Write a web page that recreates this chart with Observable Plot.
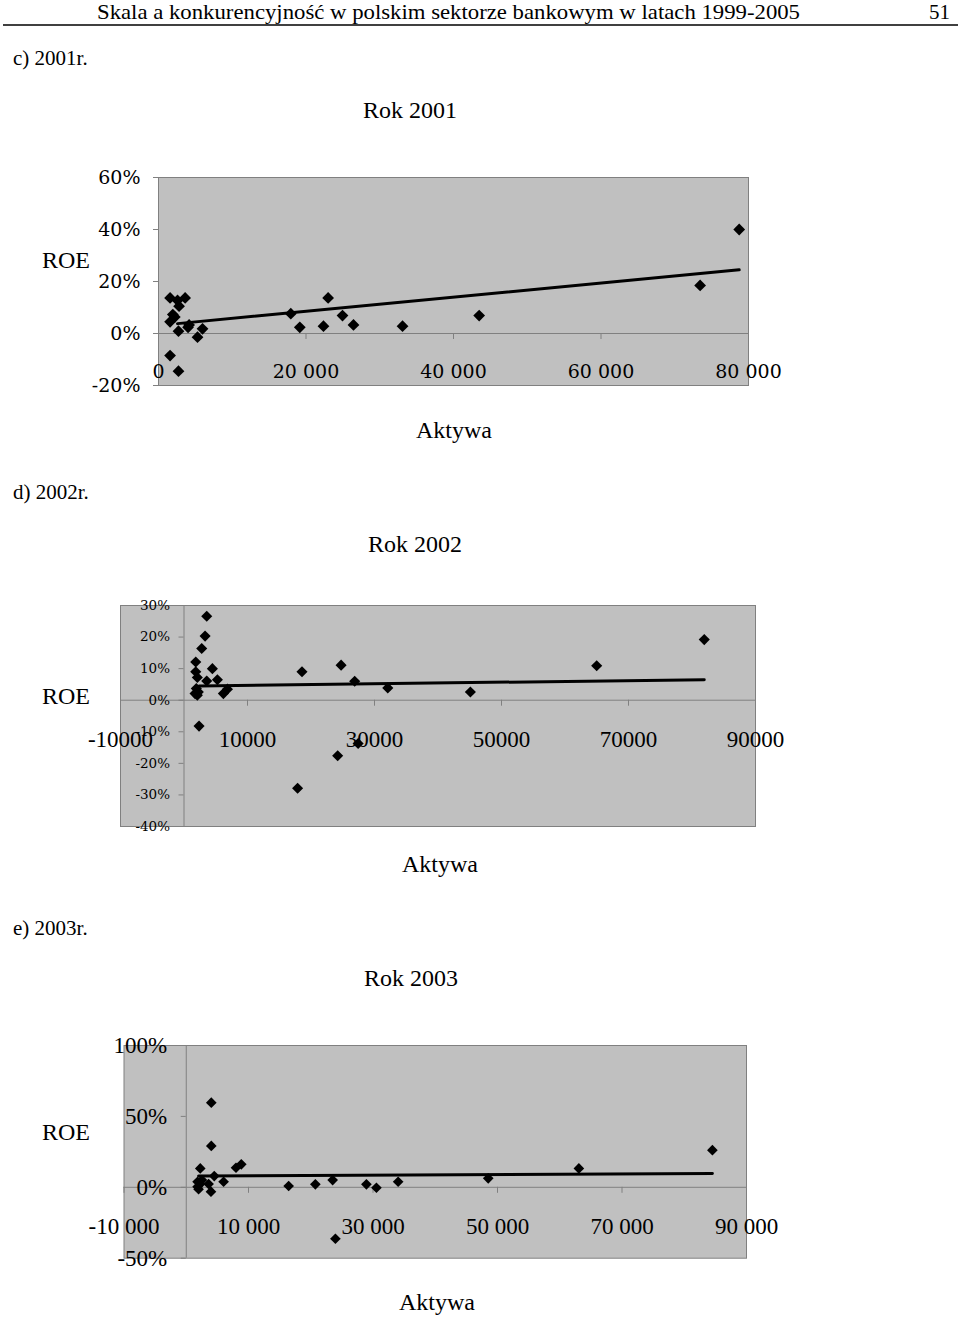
<!DOCTYPE html>
<html>
<head>
<meta charset="utf-8">
<script src="https://cdn.jsdelivr.net/npm/d3@7"></script>
<script src="https://cdn.jsdelivr.net/npm/@observablehq/plot@0.6"></script>
<style>
  body { margin: 0; background: #fff; }
  #page { position: relative; width: 960px; height: 1319px; overflow: hidden; background: #fff; }
  #page svg { position: absolute; left: 0; }
</style>
</head>
<body>
<div id="page"></div>
<script>
// ---------- DATA ----------
// 2001
const assets2001 = [1570, 2580, 3610, 2790, 1940, 1570, 2210, 2710, 4150, 4010, 5290, 5970, 1570, 2710,
  17940, 19160, 22370, 23000, 24950, 26440, 33090, 43480, 73440, 78740];
const roe2001 = [13.7, 12.7, 13.7, 10.5, 7.3, 4.5, 6.3, 0.9, 3.3, 2.4, -1.4, 1.8, -8.5, -14.5,
  7.6, 2.4, 2.8, 13.7, 6.9, 3.3, 2.8, 6.9, 18.5, 40];
const trendX2001 = [2580, 78740];
const trendY2001 = [3.8, 24.5];
const xTicks2001 = [0, 20000, 40000, 60000, 80000];
const yTicks2001 = [-20, 0, 20, 40, 60];

// 2002
const assets2002 = [3580, 3320, 2790, 1850, 1850, 2100, 3580, 4470, 5260, 1940, 2260, 1740, 2100, 6200, 6840, 2370,
  18580, 17890, 24740, 24200, 26880, 27420, 32090, 45100, 64990, 81930];
const roe2002 = [26.6, 20.3, 16.4, 12.1, 9.0, 7.2, 6.1, 10.0, 6.5, 3.7, 2.6, 2.1, 1.6, 2.1, 3.5, -8.2,
  9.0, -27.9, 11.1, -17.6, 6.0, -13.7, 3.9, 2.6, 10.9, 19.2];
const trendX2002 = [2370, 81930];
const trendY2002 = [4.5, 6.5];
const xTicks2002 = [-10000, 10000, 30000, 50000, 70000, 90000];
const yTicks2002 = [-40, -30, -20, -10, 0, 10, 20, 30];

// 2003
const assets2003 = [4020, 4020, 2250, 4500, 6000, 1820, 2250, 1820, 2520, 3590, 1980, 3970, 7990, 8840,
  16450, 20740, 23520, 23960, 28940, 30550, 34040, 48510, 63070, 84520];
const roe2003 = [59.7, 29.2, 13.3, 7.9, 3.9, 3.9, 2.3, 0.4, 5.1, 2.3, -1.4, -3.1, 13.8, 16.2,
  0.9, 2.1, 5.1, -36.3, 2.1, -0.3, 3.9, 6.3, 13.3, 26.2];
const trendX2003 = [1980, 84520];
const trendY2003 = [7.9, 9.8];
const xTicks2003 = [-10000, 10000, 30000, 50000, 70000, 90000];
const yTicks2003 = [-50, 0, 50, 100];

// ---------- HELPERS ----------
const fmtSpaced = v => (v < 0 ? "-" : "") + String(Math.abs(v)).replace(/\B(?=(\d{3})+(?!\d))/g, " ");
const fmtPlain = v => String(v);
const fmtPct = v => String(v) + "%";
const TIMES = "'Liberation Serif', 'Times New Roman', serif";
const PALA = "'DejaVu Serif', serif";
const GRID = "#808080";

const page = document.getElementById("page");

// static page texts
const NS = "http://www.w3.org/2000/svg";
const over = document.createElementNS(NS, "svg");
over.setAttribute("width", 960);
over.setAttribute("height", 1319);
over.style.top = "0px";
function txt(s, x, y, size, anchor = "start", extra = {}) {
  const t = document.createElementNS(NS, "text");
  t.setAttribute("x", x);
  t.setAttribute("y", y);
  t.setAttribute("font-family", TIMES);
  t.setAttribute("font-size", size);
  t.setAttribute("text-anchor", anchor);
  t.setAttribute("dominant-baseline", "central");
  t.setAttribute("fill", "#000");
  for (const k in extra) t.setAttribute(k, extra[k]);
  t.textContent = s;
  over.appendChild(t);
}
txt("Skala a konkurencyjność w polskim sektorze bankowym w latach 1999-2005", 97, 12, 21, "start",
  {textLength: 703, lengthAdjust: "spacingAndGlyphs"});
txt("51", 950, 12, 21, "end");
const hr = document.createElementNS(NS, "line");
hr.setAttribute("x1", 3); hr.setAttribute("x2", 958);
hr.setAttribute("y1", 25); hr.setAttribute("y2", 25);
hr.setAttribute("stroke", "#000"); hr.setAttribute("stroke-width", 1.5);
over.appendChild(hr);

txt("c) 2001r.", 13, 58, 21);
txt("Rok 2001", 410, 110, 24, "middle");
txt("ROE", 42, 260, 24);
txt("Aktywa", 454, 430, 24, "middle");

txt("d) 2002r.", 13, 492, 21);
txt("Rok 2002", 415, 544, 24, "middle");
txt("ROE", 42, 696, 24);
txt("Aktywa", 440, 864, 24, "middle");

txt("e) 2003r.", 13, 928, 21);
txt("Rok 2003", 411, 978, 24, "middle");
txt("ROE", 42, 1132, 24);
txt("Aktywa", 437, 1302, 24, "middle");
page.appendChild(over);

function scatter(cfg) {
  const pts = cfg.assets.map((a, i) => ({a, r: cfg.roe[i]}));
  const trend = cfg.trendX.map((a, i) => ({a, r: cfg.trendY[i]}));
  const svg = Plot.plot({
    width: 960,
    height: cfg.height,
    marginLeft: cfg.ml, marginRight: cfg.mr, marginTop: cfg.mt, marginBottom: cfg.mb,
    x: {domain: cfg.xDomain, axis: null},
    y: {domain: cfg.yDomain, axis: null},
    style: {background: "transparent", overflow: "visible"},
    marks: [
      Plot.frame({fill: "#c0c0c0", stroke: GRID}),
      Plot.ruleY([0], {stroke: GRID}),
      Plot.ruleX([0], {stroke: GRID}),
      Plot.ruleX(cfg.xTicks, {x: d => d, y1: 0, y2: 0, insetBottom: -6, stroke: GRID}),
      Plot.ruleY(cfg.yTicks, {y: d => d, x1: 0, x2: 0, insetLeft: -5, stroke: GRID}),
      Plot.dot(pts, {x: "a", y: "r", symbol: "diamond2", r: cfg.r, fill: "#000", stroke: null}),
      Plot.line(trend, {x: "a", y: "r", stroke: "#000", strokeWidth: 3}),
      Plot.text(cfg.xTicks, {x: d => d, y: 0, dy: cfg.xDy, text: cfg.xFmt, fill: "#000",
        fontFamily: cfg.xFont, fontSize: cfg.xSize, lineAnchor: "middle"}),
      Plot.text(cfg.yTicks, {x: 0, y: d => d, dx: cfg.yDx, text: fmtPct, fill: "#000", textAnchor: "end",
        fontFamily: cfg.yFont, fontSize: cfg.ySize, lineAnchor: "middle"})
    ]
  });
  svg.style.top = cfg.top + "px";
  page.appendChild(svg);
}

scatter({
  assets: assets2001, roe: roe2001, trendX: trendX2001, trendY: trendY2001,
  xTicks: xTicks2001, yTicks: yTicks2001, xDomain: [0, 80000], yDomain: [-20, 60],
  top: 150, height: 260, ml: 158, mr: 212, mt: 27, mb: 25, r: 5.3,
  xFmt: fmtSpaced, xFont: PALA, xSize: 19, xDy: 38,
  yFont: PALA, ySize: 19, yDx: -18
});

scatter({
  assets: assets2002, roe: roe2002, trendX: trendX2002, trendY: trendY2002,
  xTicks: xTicks2002, yTicks: yTicks2002, xDomain: [-10000, 90000], yDomain: [-40, 30],
  top: 580, height: 270, ml: 120, mr: 205, mt: 25, mb: 24, r: 5,
  xFmt: fmtPlain, xFont: TIMES, xSize: 23, xDy: 39,
  yFont: PALA, ySize: 13.5, yDx: -14
});

scatter({
  assets: assets2003, roe: roe2003, trendX: trendX2003, trendY: trendY2003,
  xTicks: xTicks2003, yTicks: yTicks2003, xDomain: [-10000, 90000], yDomain: [-50, 100],
  top: 1020, height: 260, ml: 123.5, mr: 214, mt: 25, mb: 22.3, r: 4.8,
  xFmt: fmtSpaced, xFont: TIMES, xSize: 23, xDy: 39,
  yFont: TIMES, ySize: 23, yDx: -19
});
</script>
</body>
</html>
